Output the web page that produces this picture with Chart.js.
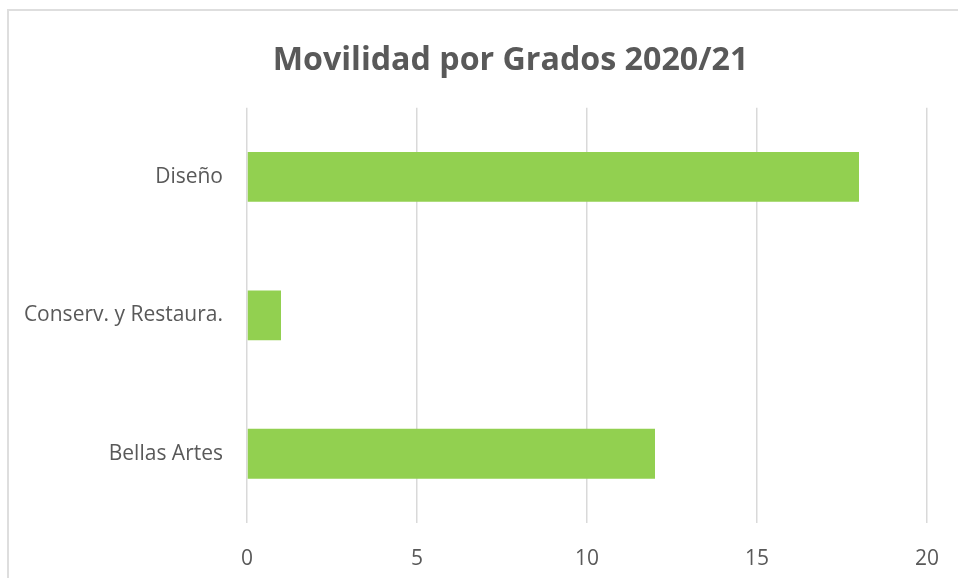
<!DOCTYPE html>
<html>
<head>
<meta charset="utf-8">
<script src="https://cdn.jsdelivr.net/npm/chart.js@4/dist/chart.umd.min.js"></script>
<style>
    body { margin: 0; background: #ffffff; overflow: hidden; }
    #frame {
        position: absolute;
        left: 7px;
        top: 9px;
        width: 2000px;
        height: 2000px;
        border: 2px solid #dedede;
        pointer-events: none;
    }
    #myChart { position: absolute; left: 0; top: 0; }
</style>
</head>
<body>
<canvas id="myChart" width="958" height="578"></canvas>
<div id="frame"></div>
<script>
'use strict';

// Data
var categories = ['Diseño', 'Conserv. y Restaura.', 'Bellas Artes'];
var movilidad = [18, 1, 12];
var axisMin = 0;
var axisMax = 20;
var axisStep = 5;

var textColor = '#595959';

// The title in the original sits a bit right of the canvas centre
var shiftTitle = {
    id: 'shiftTitle',
    afterLayout: function (chart) {
        var box = chart.titleBlock;
        if (box) {
            box.left += 37;
            box.right += 37;
        }
    }
};

var chart = new Chart(document.getElementById('myChart'), {
    type: 'bar',
    data: {
        labels: categories,
        datasets: [{
            label: 'Movilidad',
            data: movilidad,
            backgroundColor: '#92D050',
            borderWidth: 0,
            barPercentage: 0.36,
            categoryPercentage: 1
        }]
    },
    plugins: [shiftTitle],
    options: {
        indexAxis: 'y',
        responsive: false,
        animation: false,
        layout: {
            padding: { left: 20, right: 31, top: 0, bottom: 11 }
        },
        plugins: {
            legend: { display: false },
            tooltip: { enabled: false },
            title: {
                display: true,
                text: 'Movilidad por Grados 2020/21',
                color: textColor,
                font: { family: "'Open Sans'", size: 32.2, weight: 'bold' },
                padding: { top: 42, bottom: 27 }
            }
        },
        scales: {
            x: {
                min: axisMin,
                max: axisMax,
                border: { display: false },
                grid: {
                    color: '#d9d9d9',
                    lineWidth: 1.5,
                    drawTicks: false
                },
                ticks: {
                    stepSize: axisStep,
                    padding: 23,
                    color: textColor,
                    font: { family: "'Open Sans'", size: 21 }
                },
                afterFit: function (scale) {
                    scale.height = 44;
                    scale.paddingLeft = 0;
                    scale.paddingRight = 0;
                }
            },
            y: {
                border: { display: false },
                grid: { display: false, drawTicks: false },
                ticks: {
                    padding: 24,
                    color: textColor,
                    font: { family: "'Open Sans'", size: 21 }
                },
                afterFit: function (scale) {
                    scale.width = 227;
                }
            }
        }
    }
});
</script>
</body>
</html>
